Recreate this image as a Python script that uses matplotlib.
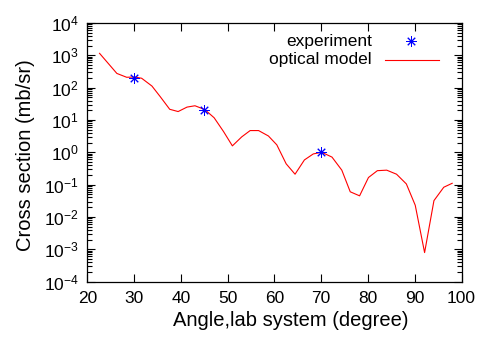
import numpy as np
import matplotlib
matplotlib.use('Agg')
import matplotlib.pyplot as plt
from matplotlib.ticker import LogLocator, NullFormatter, MultipleLocator

plt.rcParams.update({
    'font.family': ['Liberation Sans', 'DejaVu Sans'],
    'mathtext.fontset': 'custom',
    'mathtext.rm': 'Liberation Sans',
    'mathtext.default': 'regular',
    'font.size': 12.5,
})

# optical model curve (angle in degrees, cross section in mb/sr)
model_angle = [22.6, 26.3, 28.4, 30.1, 31.6, 33.8, 35.6, 37.6, 39.4, 41.3,
               43.0, 45.1, 47.1, 49.1, 51.0, 53.0, 54.8, 56.6, 58.7, 60.5,
               62.5, 64.4, 66.4, 68.3, 70.1, 72.3, 74.4, 76.2, 78.2, 80.1,
               82.0, 84.0, 86.1, 88.2, 90.1, 92.1, 94.1, 96.2, 98.0]
model_xs = [1150, 275, 209, 214, 195, 112, 52, 21.4, 18.2, 25,
            27.5, 21, 11.7, 4.4, 1.58, 3.0, 4.7, 4.7, 3.2, 1.7,
            0.44, 0.21, 0.58, 0.89, 1.0, 0.71, 0.28, 0.060, 0.045, 0.166,
            0.27, 0.28, 0.21, 0.105, 0.023, 0.00079, 0.032, 0.083, 0.11]

# experimental points
exp_angle = [30, 45, 70]
exp_xs = [200, 20, 1.0]

fig = plt.figure(figsize=(4.91, 3.43), dpi=100)
ax = fig.add_axes([0.178, 0.179, 0.762, 0.754])

ax.plot(model_angle, model_xs, color='#ff0000', lw=0.8)
ax.plot(exp_angle, exp_xs, linestyle='none', marker=(8, 2, 0),
        markersize=7.5, markeredgewidth=0.7, color='#0000ff')

ax.set_yscale('log')
ax.set_xlim(20, 100)
ax.set_ylim(1e-4, 1e4)
ax.xaxis.set_major_locator(MultipleLocator(10))
ax.yaxis.set_major_locator(LogLocator(base=10, numticks=20))
ax.yaxis.set_minor_locator(LogLocator(base=10, subs=np.arange(2, 10), numticks=20))
ax.yaxis.set_minor_formatter(NullFormatter())

ax.tick_params(which='both', direction='in', top=True, right=True, color='black')
ax.tick_params(which='major', length=6, width=0.8)
ax.tick_params(which='minor', length=3.5, width=0.8)
ax.tick_params(axis='x', pad=7)
ax.tick_params(axis='y', pad=6)
for sp in ax.spines.values():
    sp.set_linewidth(0.9)

ax.set_xlabel('Angle,lab system (degree)', fontsize=14.5)
ax.set_ylabel('Cross section (mb/sr)', fontsize=14.5)
ax.xaxis.set_label_coords(0.544, -0.113)
ax.yaxis.set_label_coords(-0.14, 0.49)

# gnuplot style key: text right-aligned, sample on the right
ax.text(0.760, 0.930, 'experiment', transform=ax.transAxes, ha='right', va='center')
ax.text(0.760, 0.857, 'optical model', transform=ax.transAxes, ha='right', va='center')
ax.plot([0.866], [0.930], transform=ax.transAxes, linestyle='none', marker=(8, 2, 0),
        markersize=7.5, markeredgewidth=0.7, color='#0000ff')
ax.plot([0.795, 0.940], [0.857, 0.857], transform=ax.transAxes, color='#ff0000', lw=0.8)

fig.savefig('out.png', dpi=100)
